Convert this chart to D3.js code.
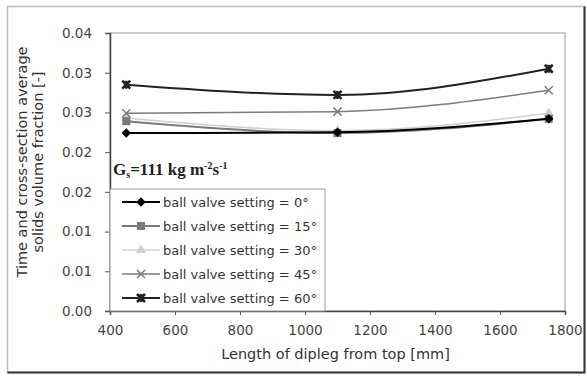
<!DOCTYPE html>
<html>
<head>
<meta charset="utf-8">
<script src="https://cdn.jsdelivr.net/npm/d3@7"></script>
<style>
  body { margin: 0; background: #fff; }
  svg { display: block; font-family: "DejaVu Sans", Verdana, sans-serif; }
</style>
</head>
<body>
<div id="chart"></div>
<script>
// data
const lengths = [450, 1100, 1750];
const settings = ["0°", "15°", "30°", "45°", "60°"];
const frac0  = [0.0224, 0.0225, 0.0242];
const frac15 = [0.0239, 0.0224, 0.0242];
const frac30 = [0.0243, 0.0227, 0.0249];
const frac45 = [0.0249, 0.0251, 0.0278];
const frac60 = [0.0285, 0.0272, 0.0305];
const xTicks = [400, 600, 800, 1000, 1200, 1400, 1600, 1800];
const yTicks = [0, 0.005, 0.01, 0.015, 0.02, 0.025, 0.03, 0.035];
const yTickLabels = ["0.00", "0.01", "0.01", "0.02", "0.02", "0.03", "0.03", "0.04"];

const W = 587, H = 376;
const margin = { top: 33, right: 22, bottom: 65, left: 110 };
const width = W - margin.left - margin.right;
const height = H - margin.top - margin.bottom;

const series = [
  { name: settings[0], values: frac0,  color: "#000", lw: 2,   marker: "diamond" },
  { name: settings[1], values: frac15, color: "#7a7a7a", lw: 2, marker: "square" },
  { name: settings[2], values: frac30, color: "#cfcfcf", lw: 1.5, marker: "triangle" },
  { name: settings[3], values: frac45, color: "#7c7c7c", lw: 1.5, marker: "x" },
  { name: settings[4], values: frac60, color: "#222", lw: 2,   marker: "star" }
];

const svg = d3.select("#chart").append("svg")
  .attr("width", W)
  .attr("height", H);

// outer frame
svg.append("rect")
  .attr("x", 7.5).attr("y", 6.5)
  .attr("width", 577).attr("height", 366)
  .attr("fill", "#fff")
  .attr("stroke", "#bbb").attr("stroke-width", 1.5);
svg.append("path")
  .attr("d", "M584.5,6.5 V372.5 H7.5")
  .attr("fill", "none").attr("stroke", "#333").attr("stroke-width", 2);

const g = svg.append("g")
  .attr("transform", `translate(${margin.left},${margin.top})`);

const x = d3.scaleLinear().domain([400, 1800]).range([0, width]);
const y = d3.scaleLinear().domain([0, 0.035]).range([height, 0]);

// plot frame (top/right light)
g.append("rect")
  .attr("width", width).attr("height", height)
  .attr("fill", "none")
  .attr("stroke", "#aaa").attr("stroke-width", 1.2);

// axes
const xAxis = d3.axisBottom(x).tickValues(xTicks).tickSize(4).tickPadding(10)
  .tickFormat(d3.format("d"));
const yAxis = d3.axisLeft(y).tickValues(yTicks).tickSize(5).tickPadding(13)
  .tickFormat((d, i) => yTickLabels[i]);

const xg = g.append("g").attr("transform", `translate(0,${height})`).call(xAxis);
const yg = g.append("g").call(yAxis);
[xg, yg].forEach(a => {
  a.select(".domain").attr("stroke", "#444").attr("stroke-width", 1.5);
  a.selectAll(".tick line").attr("stroke", "#555");
  a.selectAll(".tick text").attr("fill", "#444")
    .style("font-family", "'DejaVu Sans', sans-serif")
    .style("font-size", "13.5px");
});

// axis titles
svg.append("text")
  .attr("x", margin.left + width / 2 - 2)
  .attr("y", 359)
  .attr("text-anchor", "middle")
  .attr("fill", "#333")
  .style("font-size", "14.5px")
  .text("Length of dipleg from top [mm]");

const yt = svg.append("text")
  .attr("transform", "translate(27,162) rotate(-90)")
  .attr("text-anchor", "middle")
  .attr("fill", "#333")
  .style("font-size", "14.5px");
yt.append("tspan").attr("x", 0).attr("y", 0).text("Time and cross-section average");
yt.append("tspan").attr("x", 0).attr("y", 16).text("solids volume fraction [-]");

// markers
function drawMarker(sel, type, color, s) {
  if (type === "diamond") {
    sel.append("path").attr("d", d3.symbol(d3.symbolDiamond2, s * s * 0.9)())
      .attr("fill", color);
  } else if (type === "square") {
    sel.append("rect").attr("x", -s / 2).attr("y", -s / 2)
      .attr("width", s).attr("height", s).attr("fill", color);
  } else if (type === "triangle") {
    sel.append("path").attr("d", d3.symbol(d3.symbolTriangle, s * s * 0.7)())
      .attr("fill", color);
  } else if (type === "x") {
    const h = s / 2;
    sel.append("path").attr("d", `M${-h},${-h}L${h},${h}M${-h},${h}L${h},${-h}`)
      .attr("stroke", color).attr("stroke-width", 1.5);
  } else if (type === "star") {
    const h = s / 2;
    sel.append("path").attr("d", `M${-h},${-h}L${h},${h}M${-h},${h}L${h},${-h}M0,${-h}L0,${h}`)
      .attr("stroke", color).attr("stroke-width", 2.5);
    sel.append("rect").attr("x", -2.5).attr("y", -2.5).attr("width", 5).attr("height", 5)
      .attr("fill", color);
  }
}

const line = d3.line()
  .x((d, i) => x(lengths[i]))
  .y(d => y(d))
  .curve(d3.curveMonotoneX);

// draw lightest first so dark lines sit on top
const order = [2, 1, 3, 0, 4];
order.forEach(k => {
  const s = series[k];
  g.append("path")
    .datum(s.values)
    .attr("fill", "none")
    .attr("stroke", s.color)
    .attr("stroke-width", s.lw)
    .attr("d", line);
  s.values.forEach((v, i) => {
    const m = g.append("g").attr("transform", `translate(${x(lengths[i])},${y(v)})`);
    drawMarker(m, s.marker, s.color, 8);
  });
});

// annotation
const ann = g.append("text")
  .attr("x", 3).attr("y", 142)
  .attr("fill", "#222")
  .style("font-family", "'Liberation Serif', 'Times New Roman', serif")
  .style("font-weight", "bold")
  .style("font-size", "17px");
ann.append("tspan").text("G");
ann.append("tspan").attr("dy", 3).style("font-size", "10px").text("s");
ann.append("tspan").attr("dy", -3).text("=111 kg m");
ann.append("tspan").attr("dy", -6).style("font-size", "10px").text("-2");
ann.append("tspan").attr("dy", 6).text("s");
ann.append("tspan").attr("dy", -6).style("font-size", "10px").text("-1");

// legend
const legend = g.append("g").attr("transform", "translate(0,156)");
legend.append("rect")
  .attr("x", 0).attr("y", 0)
  .attr("width", 215).attr("height", height - 156)
  .attr("fill", "#fff")
  .attr("stroke", "#999").attr("stroke-width", 1);

series.forEach((s, i) => {
  const ly = 13 + i * 24;
  const item = legend.append("g").attr("transform", `translate(0,${ly})`);
  item.append("line")
    .attr("x1", 12).attr("x2", 50)
    .attr("stroke", s.color).attr("stroke-width", s.lw);
  const m = item.append("g").attr("transform", "translate(31,0)");
  drawMarker(m, s.marker, s.color, 8);
  item.append("text")
    .attr("x", 53).attr("y", 5)
    .attr("fill", "#333")
    .style("font-size", "13px")
    .text(`ball valve setting = ${s.name}`);
});
</script>
</body>
</html>
